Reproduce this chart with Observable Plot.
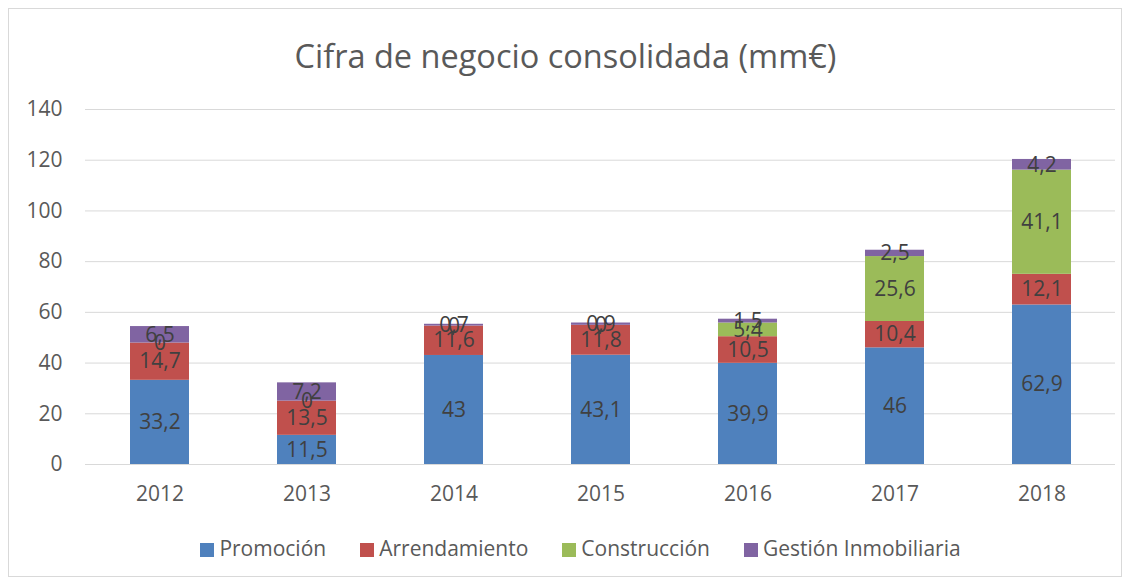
<!DOCTYPE html>
<html>
<head>
<meta charset="utf-8">
<script src="https://cdn.jsdelivr.net/npm/d3@7"></script>
<script src="https://cdn.jsdelivr.net/npm/@observablehq/plot@0.6"></script>
<style>
  html, body { margin: 0; padding: 0; background: #fff; }
  body { width: 1131px; height: 581px; position: relative; overflow: hidden; font-family: "Open Sans", Lato, sans-serif; }
  #frame { position: absolute; left: 8px; top: 8px; width: 1114px; height: 569px; border: 1px solid #d9d9d9; box-sizing: border-box; }
  #title { position: absolute; left: 0; width: 1131px; top: 36px; text-align: center; font-size: 32.5px; color: #595959; line-height: 40px; }
  #chart { position: absolute; left: 0; top: 90px; }
  #legend { position: absolute; left: 15px; width: 1131px; top: 534px; display: flex; justify-content: center; gap: 34px; font-size: 21px; color: #595959; line-height: 28px; }
  #legend span.sw { display: inline-block; width: 14px; height: 14px; margin-right: 5px; vertical-align: -1px; }
</style>
</head>
<body>
<div id="frame"></div>
<div id="title">Cifra de negocio consolidada (mm€)</div>
<div id="chart"></div>
<div id="legend"></div>
<script>
const years = ["2012", "2013", "2014", "2015", "2016", "2017", "2018"];
const seriesNames = ["Promoción", "Arrendamiento", "Construcción", "Gestión Inmobiliaria"];
const colors = ["#4F81BD", "#C0504D", "#9BBB59", "#8064A2"];
const promocion = [33.2, 11.5, 43, 43.1, 39.9, 46, 62.9];
const arrendamiento = [14.7, 13.5, 11.6, 11.8, 10.5, 10.4, 12.1];
const construccion = [0, 0, 0, 0, 5.4, 25.6, 41.1];
const gestion = [6.5, 7.2, 0.7, 0.9, 1.5, 2.5, 4.2];
const yTicks = [0, 20, 40, 60, 80, 100, 120, 140];

const seriesValues = [promocion, arrendamiento, construccion, gestion];
const data = [];
seriesNames.forEach((s, i) => {
  years.forEach((y, j) => data.push({year: y, series: s, value: seriesValues[i][j]}));
});
const fmt = v => String(v).replace(".", ",");

const chart = Plot.plot({
  width: 1131,
  height: 430,
  marginTop: 19,
  marginBottom: 56,
  marginLeft: 85,
  marginRight: 16,
  style: {fontFamily: "'Open Sans', Lato, sans-serif", fontSize: "21px", color: "#595959", background: "transparent"},
  x: {domain: years, paddingInner: 0.6, paddingOuter: 0.3, label: null, tickSize: 0, tickPadding: 22},
  y: {domain: [0, 140], ticks: yTicks, label: null, tickSize: 0, tickPadding: 23},
  color: {domain: seriesNames, range: colors},
  marks: [
    Plot.gridY(yTicks, {stroke: "#d9d9d9", strokeOpacity: 1}),
    Plot.barY(data, {x: "year", y: "value", fill: "series", order: seriesNames}),
    Plot.ruleY([0], {stroke: "#d9d9d9", strokeOpacity: 1}),
    Plot.text(data, Plot.stackY({x: "year", y: "value", z: "series", order: seriesNames, text: d => fmt(d.value), fill: "#404040", fontSize: 21}))
  ]
});
document.getElementById("chart").appendChild(chart);

const legend = document.getElementById("legend");
seriesNames.forEach((s, i) => {
  const item = document.createElement("div");
  item.innerHTML = `<span class="sw" style="background:${colors[i]}"></span>${s}`;
  legend.appendChild(item);
});
</script>
</body>
</html>
